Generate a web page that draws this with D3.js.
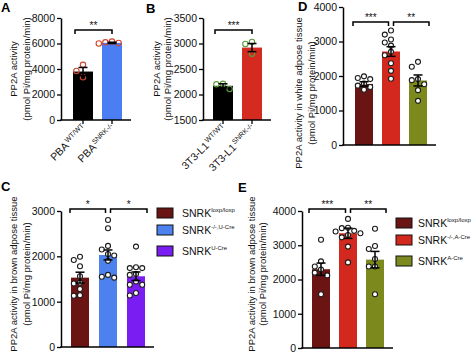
<!DOCTYPE html>
<html>
<head>
<meta charset="utf-8">
<script src="https://cdn.jsdelivr.net/npm/d3@7"></script>
<style>
  body { margin: 0; background: #fff; }
  svg { display: block; font-family: "Liberation Sans", Arial, Helvetica, sans-serif; }
</style>
</head>
<body>
<svg id="chart" width="474" height="354"></svg>
<script>
// ---- panel A: PBA cells ----
const aLabels = ['WT/WT', 'SNRK-/-'];
const aMeans = [3800, 6050];
const aSem = [320, 50];
const aPoints = [[4330, 3850, 3350], [6150, 6090, 6040, 6000]];
const aTicks = [0, 2000, 4000, 6000, 8000];

// ---- panel B: 3T3-L1 cells ----
const bLabels = ['WT/WT', 'SNRK-/-'];
const bMeans = [2170, 2920];
const bSem = [40, 80];
const bPoints = [[2210, 2200, 2110], [3030, 2990, 2800]];
const bTicks = [1500, 2000, 2500, 3000, 3500];

// ---- panel D: white adipose tissue ----
const dMeans = [1770, 2710, 1870];
const dSem = [65, 140, 160];
const dPoints = [
  [1910, 1940, 1990, 1780, 1600, 1680, 1720],
  [3320, 3200, 3060, 2970, 2880, 2700, 2600, 2370, 2150, 1920],
  [2410, 2270, 1910, 1880, 1760, 1590, 1280]
];
const dTicks = [0, 1000, 2000, 3000, 4000];

// ---- panel C: brown adipose tissue, U-Cre ----
const cLegend = ['loxp/loxp', '-/-,U-Cre', 'U-Cre'];
const cMeans = [1530, 2030, 1560];
const cSem = [120, 110, 95];
const cPoints = [
  [1990, 1920, 1780, 1560, 1420, 1400, 1280, 1130, 1140],
  [2800, 2620, 2230, 2150, 2050, 2020, 1900, 1590, 1530, 1550],
  [2215, 1740, 1760, 1740, 1590, 1610, 1445, 1372, 1372, 1137, 1190]
];
const cTicks = [0, 1000, 2000, 3000];

// ---- panel E: brown adipose tissue, A-Cre ----
const eLegend = ['loxp/loxp', '-/-,A-Cre', 'A-Cre'];
const eMeans = [2300, 3350, 2580];
const eSem = [180, 150, 240];
const ePoints = [
  [3160, 2530, 2380, 2290, 2200, 2120, 1570],
  [3770, 3500, 3510, 3420, 3400, 3300, 3230, 3350, 2960, 2500],
  [3480, 2980, 2890, 2600, 2380, 2380, 1570]
];
const eTicks = [0, 1000, 2000, 3000, 4000];

const svg = d3.select('#chart');
const darkRed = '#6b1414', red = '#d3281e', olive = '#7c8a1d';

// spread overlapping dots sideways, like a scatter dot plot
function dodge(values, y, r) {
  const placed = [];
  const off = [];
  const order = values.map((v, i) => i).sort((a, b) => values[b] - values[a]);
  order.forEach(i => {
    const py = y(values[i]);
    for (let k = 0; k < 40; k++) {
      const o = k === 0 ? 0 : (k % 2 ? -1 : 1) * Math.ceil(k / 2) * (2 * r + 1.2);
      if (placed.every(q => Math.hypot(q.x - o, q.y - py) >= 2 * r + 1)) {
        off[i] = o;
        placed.push({ x: o, y: py });
        break;
      }
    }
  });
  return off;
}

function drawPanel(p) {
  const n = p.means.length;
  const step = p.bw + p.gap;
  const y = d3.scaleLinear()
    .domain([p.ticks[0], p.ticks[p.ticks.length - 1]])
    .range([p.bottom, p.top]);
  const x = d3.scaleBand()
    .domain(d3.range(n))
    .range([p.axisX, p.axisX + n * step - p.gap + 2 * p.first])
    .paddingInner(p.gap / step)
    .paddingOuter(p.first / step);
  const bw = x.bandwidth();
  const g = svg.append('g');

  g.selectAll('rect.bar')
    .data(p.means)
    .join('rect')
    .attr('class', 'bar')
    .attr('x', (d, i) => x(i))
    .attr('y', d => y(d))
    .attr('width', bw)
    .attr('height', d => y(p.ticks[0]) - y(d))
    .attr('fill', (d, i) => p.colors[i]);

  // dots
  p.points.forEach((vals, i) => {
    const off = dodge(vals, y, p.r);
    g.selectAll(null)
      .data(vals)
      .join('circle')
      .attr('cx', (d, j) => x(i) + bw / 2 + off[j])
      .attr('cy', d => y(d))
      .attr('r', p.r)
      .attr('fill', p.dotFill)
      .attr('stroke', p.dotStroke)
      .attr('stroke-width', 1.1);
  });

  // error bars (mean +/- SEM)
  p.means.forEach((m, i) => {
    const cx = x(i) + bw / 2;
    const eb = g.append('g').attr('stroke', '#000').attr('stroke-width', 1.5);
    eb.append('line').attr('x1', cx).attr('x2', cx).attr('y1', y(m - p.sem[i])).attr('y2', y(m + p.sem[i]));
    [m - p.sem[i], m + p.sem[i]].forEach(v => {
      eb.append('line').attr('x1', cx - 4.5).attr('x2', cx + 4.5).attr('y1', y(v)).attr('y2', y(v));
    });
  });

  // y axis
  const ax = g.append('g')
    .attr('transform', `translate(${p.axisX},0)`)
    .call(d3.axisLeft(y).tickValues(p.ticks).tickFormat(d3.format('d'))
      .tickSize(4).tickSizeOuter(0).tickPadding(2));
  ax.select('.domain').attr('stroke-width', 1.5);
  ax.selectAll('.tick line').attr('stroke-width', 1.3);
  ax.selectAll('.tick text').attr('font-size', 10.5).attr('font-family', null).attr('fill', '#111');

  // x axis line
  const xEnd = x(n - 1) + bw + 9;
  g.append('line')
    .attr('x1', p.axisX - 0.7).attr('x2', xEnd)
    .attr('y1', p.bottom).attr('y2', p.bottom)
    .attr('stroke', '#000').attr('stroke-width', 1.5);

  // category labels (panels A, B)
  if (p.xBase) {
    p.xSup.forEach((s, i) => {
      const cx = x(i) + bw / 2;
      g.append('line').attr('x1', cx).attr('x2', cx).attr('y1', p.bottom).attr('y2', p.bottom + 4)
        .attr('stroke', '#000').attr('stroke-width', 1.3);
      const t = g.append('text')
        .attr('transform', `translate(${cx + 4},${p.bottom + 9}) rotate(-45)`)
        .attr('text-anchor', 'end')
        .attr('font-size', 10.5)
        .attr('fill', '#111');
      t.append('tspan').text(p.xBase);
      t.append('tspan').attr('dx', 1).attr('dy', -4).attr('font-size', 7).text(s);
    });
  }

  // y axis title
  p.yTitle.forEach((line, k) => {
    g.append('text')
      .attr('transform', `translate(${p.titleX[k]},${p.titleY}) rotate(-90)`)
      .attr('text-anchor', 'middle')
      .attr('dy', '0.35em')
      .attr('font-size', 9.5)
      .attr('fill', '#111')
      .text(line);
  });

  // significance brackets
  p.sig.forEach(s => {
    const x1 = s.from === 'left' ? x(s.a) + s.d1 : x(s.a) + bw / 2 + s.d1;
    const x2 = s.to === 'right' ? x(s.b) + bw + s.d2 : x(s.b) + bw / 2 + s.d2;
    const by = p.bracketY;
    g.append('path')
      .attr('d', `M${x1},${by + 4}V${by}H${x2}V${by + 4}`)
      .attr('fill', 'none').attr('stroke', '#000').attr('stroke-width', 1.5);
    g.append('text')
      .attr('x', (x1 + x2) / 2).attr('y', by - 1)
      .attr('text-anchor', 'middle').attr('font-size', 10).attr('fill', '#111')
      .text(s.label);
  });

  // panel letter
  svg.append('text')
    .attr('x', p.letterPos[0]).attr('y', p.letterPos[1])
    .attr('font-size', 13).attr('font-weight', 'bold')
    .text(p.letter);
}

function drawLegend(names, colors, x0, rows, textX) {
  const g = svg.append('g');
  names.forEach((s, i) => {
    g.append('rect')
      .attr('x', x0).attr('y', rows[i] - 5).attr('width', 16).attr('height', 10)
      .attr('fill', colors[i]).attr('stroke', '#111').attr('stroke-width', 1);
    const t = g.append('text').attr('x', textX).attr('y', rows[i] + 4)
      .attr('font-size', 10.5).attr('fill', '#111');
    t.append('tspan').text('SNRK');
    t.append('tspan').attr('dy', -5).attr('font-size', 6).text(s);
  });
}

const pmol = '(pmol Pi/mg protein/min)';

drawPanel({
  letter: 'A', letterPos: [1, 12],
  means: aMeans, sem: aSem, points: aPoints, ticks: aTicks,
  colors: ['#000000', '#4a7ef2'], dotFill: 'none', dotStroke: '#d0452e', r: 2.7,
  axisX: 61, top: 18, bottom: 120, bw: 20, gap: 9, first: 12,
  xBase: 'PBA', xSup: aLabels,
  yTitle: ['PP2A activity', pmol], titleX: [14, 27], titleY: 69,
  bracketY: 30,
  sig: [{ a: 0, b: 1, from: 'left', to: 'center', d1: 2, d2: 0, label: '**' }]
});

drawPanel({
  letter: 'B', letterPos: [146, 13],
  means: bMeans, sem: bSem, points: bPoints, ticks: bTicks,
  colors: ['#000000', '#d52a20'], dotFill: 'none', dotStroke: '#5b9b3b', r: 2.7,
  axisX: 203, top: 18, bottom: 120, bw: 20, gap: 9, first: 10,
  xBase: '3T3-L1', xSup: bLabels,
  yTitle: ['PP2A activity', pmol], titleX: [157, 168], titleY: 69,
  bracketY: 30,
  sig: [{ a: 0, b: 1, from: 'left', to: 'center', d1: 2, d2: 0, label: '***' }]
});

drawPanel({
  letter: 'D', letterPos: [298, 11],
  means: dMeans, sem: dSem, points: dPoints, ticks: dTicks,
  colors: [darkRed, red, olive], dotFill: '#fff', dotStroke: '#1b1b1b', r: 2.5,
  axisX: 343, top: 7, bottom: 145, bw: 18, gap: 9, first: 12,
  yTitle: ['PP2A activity in white adpose tissue', pmol], titleX: [299, 312], titleY: 93,
  bracketY: 22,
  sig: [
    { a: 0, b: 1, from: 'left', to: 'center', d1: -2, d2: -2.5, label: '***' },
    { a: 1, b: 2, from: 'center', to: 'right', d1: 2.5, d2: 2, label: '**' }
  ]
});

drawPanel({
  letter: 'C', letterPos: [1, 191],
  means: cMeans, sem: cSem, points: cPoints, ticks: cTicks,
  colors: [darkRed, '#4d82ee', '#7a1df2'], dotFill: '#fff', dotStroke: '#1b1b1b', r: 2.5,
  axisX: 61, top: 211, bottom: 347, bw: 18, gap: 10, first: 10,
  yTitle: ['PP2A activity in brown adpose tissue', pmol], titleX: [14, 27], titleY: 274,
  bracketY: 209,
  sig: [
    { a: 0, b: 1, from: 'left', to: 'center', d1: -1, d2: -2.5, label: '*' },
    { a: 1, b: 2, from: 'center', to: 'right', d1: 2.5, d2: 2, label: '*' }
  ]
});

drawPanel({
  letter: 'E', letterPos: [238, 192],
  means: eMeans, sem: eSem, points: ePoints, ticks: eTicks,
  colors: [darkRed, red, olive], dotFill: '#fff', dotStroke: '#1b1b1b', r: 2.5,
  axisX: 302, top: 211, bottom: 348, bw: 18, gap: 9, first: 10,
  yTitle: ['PP2A activity in brown adpose tissue', pmol], titleX: [252, 263], titleY: 274,
  bracketY: 209,
  sig: [
    { a: 0, b: 1, from: 'left', to: 'center', d1: -3, d2: -2.5, label: '***' },
    { a: 1, b: 2, from: 'center', to: 'right', d1: 2.5, d2: 2, label: '**' }
  ]
});

drawLegend(cLegend, [darkRed, '#4d82ee', '#7a1df2'], 157, [213, 230, 251], 182);
drawLegend(eLegend, [darkRed, red, olive], 396, [223, 240, 261], 418);
</script>
</body>
</html>
